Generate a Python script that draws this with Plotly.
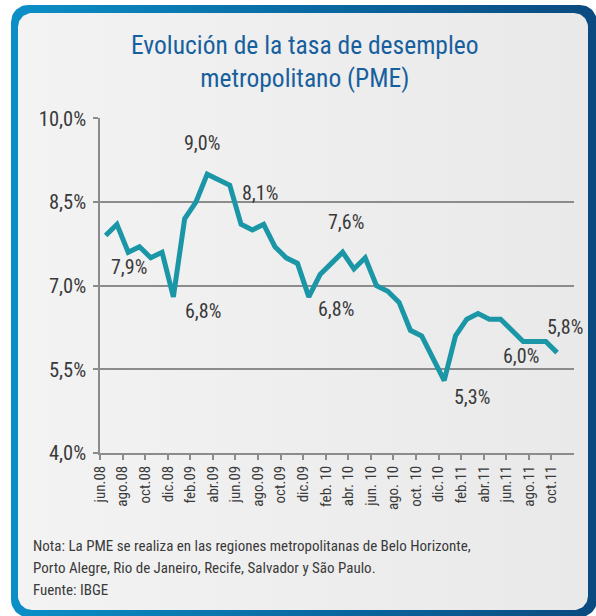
import numpy as np
import plotly.graph_objects as go

# ---------------- data ----------------
months = ["jun.08", "jul.08", "ago.08", "sep.08", "oct.08", "nov.08", "dic.08",
          "ene.09", "feb.09", "mar.09", "abr.09", "may.09", "jun.09", "jul.09",
          "ago.09", "sep.09", "oct.09", "nov.09", "dic.09", "ene.10", "feb.10",
          "mar.10", "abr.10", "may.10", "jun.10", "jul.10", "ago.10", "sep.10",
          "oct.10", "nov.10", "dic.10", "ene.11", "feb.11", "mar.11", "abr.11",
          "may.11", "jun.11", "jul.11", "ago.11", "sep.11", "oct.11"]
rate = [7.9, 8.1, 7.6, 7.7, 7.5, 7.6, 6.8, 8.2, 8.5, 9.0, 8.9, 8.8, 8.1, 8.0,
        8.1, 7.7, 7.5, 7.4, 6.8, 7.2, 7.4, 7.6, 7.3, 7.5, 7.0, 6.9, 6.7, 6.2,
        6.1, 5.7, 5.3, 6.1, 6.4, 6.5, 6.4, 6.4, 6.2, 6.0, 6.0, 6.0, 5.8]
x_tick_labels = ["jun.08", "ago.08", "oct.08", "dic.08", "feb.09", "abr.09",
                 "jun.09", "ago.09", "oct.09", "dic.09", "feb. 10", "abr. 10",
                 "jun. 10", "ago. 10", "oct. 10", "dic.10", "feb.11", "abr.11",
                 "jun.11", "ago.11", "oct.11"]
y_tick_values = [4.0, 5.5, 7.0, 8.5, 10.0]
# indices of the points that carry a value label
label_idx = [0, 6, 9, 12, 18, 21, 30, 37, 40]

W, H = 596, 616
FONT = "Liberation Sans Narrow, Roboto Condensed, Roboto, sans-serif"
TXT = "#3a3a3a"
GRID = "#8c8c8c"


def rounded_rect(x0, y0, x1, y1, r, n=14):
    xs, ys = [], []
    corners = [(x1 - r, y0 + r, -90, 0), (x1 - r, y1 - r, 0, 90),
               (x0 + r, y1 - r, 90, 180), (x0 + r, y0 + r, 180, 270)]
    for cx, cy, a0, a1 in corners:
        t = np.radians(np.linspace(a0, a1, n))
        xs += list(cx + r * np.cos(t))
        ys += list(cy + r * np.sin(t))
    xs.append(xs[0]); ys.append(ys[0])
    return xs, ys


fig = go.Figure()

# frame (full-figure pixel axes)
ox, oy = rounded_rect(11, 5, 597, 617, 17)
fig.add_trace(go.Scatter(x=ox, y=oy, fill="toself", mode="lines",
                         line=dict(width=0, color="rgba(0,0,0,0)"),
                         fillgradient=dict(type="horizontal",
                                           colorscale=[[0, "#0b8fc7"], [0.5, "#0a6aa3"], [1, "#0a4a80"]]),
                         hoverinfo="skip", showlegend=False, xaxis="x", yaxis="y"))
ix, iy = rounded_rect(18, 13, 588, 610, 14)
fig.add_trace(go.Scatter(x=ix, y=iy, fill="toself", mode="lines",
                         line=dict(width=0, color="rgba(0,0,0,0)"),
                         fillgradient=dict(type="horizontal",
                                           colorscale=[[0, "#f3f3f3"], [1, "#e9e9e9"]]),
                         hoverinfo="skip", showlegend=False, xaxis="x", yaxis="y"))

# data line
xi = list(range(len(rate)))
fig.add_trace(go.Scatter(x=xi, y=rate, mode="lines",
                         line=dict(color="#1a96a6", width=5),
                         hoverinfo="skip", showlegend=False, xaxis="x2", yaxis="y2"))

# value labels
shifts = {0: (23, -31), 6: (30, -14), 9: (-5, 31), 12: (19, 31), 18: (27, -12),
          21: (3, 30), 30: (28, -16), 37: (-2, -15), 40: (8, 26)}
for k in label_idx:
    dx, dy = shifts[k]
    fig.add_annotation(x=xi[k], y=rate[k], xref="x2", yref="y2",
                       text=f"{rate[k]:.1f}%".replace(".", ","),
                       showarrow=False, xshift=dx, yshift=dy,
                       font=dict(family=FONT, size=20, color=TXT))

# title
fig.add_annotation(x=305, y=61, xref="x", yref="y", showarrow=False,
                   text="Evolución de la tasa de desempleo<br>metropolitano (PME)",
                   font=dict(family=FONT, size=25.5, color="#17609e"),
                   align="center")
# notes
notes = ["Nota: La PME se realiza en las regiones metropolitanas de Belo Horizonte,",
         "Porto Alegre, Rio de Janeiro, Recife, Salvador y São Paulo.",
         "Fuente: IBGE"]
for i, t in enumerate(notes):
    fig.add_annotation(x=31, y=546 + 22 * i, xref="x", yref="y", showarrow=False,
                       text=t, xanchor="left", yanchor="middle",
                       font=dict(family=FONT, size=15, color=TXT))

left, right, top, bottom = 100, 574, 118.4, 453
fig.update_layout(
    width=W, height=H, margin=dict(l=0, r=0, t=0, b=0, autoexpand=False),
    paper_bgcolor="white", plot_bgcolor="rgba(0,0,0,0)",
    xaxis=dict(domain=[0, 1], range=[0, W], visible=False, fixedrange=True,
               automargin=False),
    yaxis=dict(domain=[0, 1], range=[H, 0], visible=False, fixedrange=True,
               automargin=False),
    xaxis2=dict(domain=[left / W, right / W], anchor="y2", automargin=False,
                range=[-0.5, len(rate) + 0.5],
                tickvals=[2 * i - 0.5 for i in range(len(x_tick_labels))],
                ticktext=x_tick_labels, tickangle=-90,
                ticks="outside", ticklen=5, tickcolor=GRID, tickwidth=1.5,
                showline=True, linecolor=GRID, linewidth=1.5,
                showgrid=False, zeroline=False,
                tickfont=dict(family=FONT, size=15, color=TXT)),
    yaxis2=dict(domain=[1 - bottom / H, 1 - top / H], anchor="x2", automargin=False,
                range=[4, 10], tickvals=y_tick_values,
                ticktext=[f"{v:.1f}%".replace(".", ",") for v in y_tick_values],
                ticks="outside", ticklen=5, tickcolor=GRID, tickwidth=1.5,
                ticklabelstandoff=3,
                showline=True, linecolor=GRID, linewidth=1.5,
                showgrid=True, gridcolor=GRID, gridwidth=1.5, zeroline=False,
                tickfont=dict(family=FONT, size=20.5, color=TXT)),
)

fig.write_html("out.html", config={"displayModeBar": False},
               post_script="document.body.style.margin='0px';"
                           "document.body.style.overflow='hidden';")
